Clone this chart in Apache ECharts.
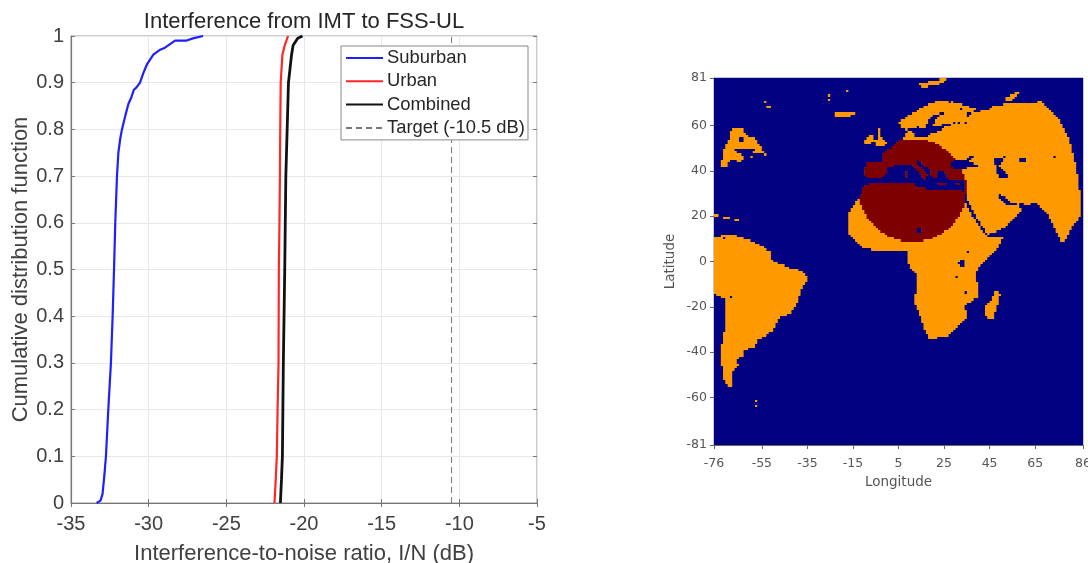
<!DOCTYPE html>
<html><head><meta charset="utf-8">
<script src="https://cdn.jsdelivr.net/npm/echarts@6/dist/echarts.min.js"></script>
<style>html,body{margin:0;padding:0;background:#fff}#c{width:1088px;height:563px;filter:blur(0.45px)}</style>
</head><body><div id="c"></div>
<script>
// ---- CDF panel: values
const suburbanDb=[-33.35,-33.1,-32.97,-32.85,-32.75,-32.6,-32.43,-32.32,-32.23,-32.15,-32.04,-31.95,-31.83,-31.72,-31.5,-31.3,-31.1,-30.95,-30.78,-30.56,-30.35,-30.1,-29.9,-29.7,-29.3,-28.95,-28.74,-28.3,-27.6,-27.15,-26.5];
const suburbanCdf=[0,0.005,0.019,0.06,0.1,0.2,0.3,0.4,0.5,0.6,0.7,0.75,0.78,0.8,0.83,0.855,0.87,0.885,0.89,0.9,0.92,0.94,0.95,0.96,0.97,0.975,0.98,0.99,0.99,0.995,1];
const urbanDb=[-21.9,-21.82,-21.75,-21.7,-21.64,-21.62,-21.58,-21.55,-21.53,-21.5,-21.39,-21.24,-21.03];
const urbanCdf=[0,0.05,0.1,0.2,0.3,0.5,0.6,0.7,0.8,0.9,0.96,0.98,1];
const combinedDb=[-21.52,-21.45,-21.39,-21.33,-21.24,-21.17,-21.0,-20.8,-20.7,-20.4,-20.1];
const combinedCdf=[0,0.05,0.1,0.3,0.5,0.7,0.9,0.96,0.98,0.995,1];
const targetDb=[-10.5,-10.5];
const targetCdf=[0,1];
const lonTicks=[-76,-55,-35,-15,5,25,45,65,86];
const latTicks=[-81,-60,-40,-20,0,20,40,60,81];

// ---- Map panel: coastlines as [lon,lat] vertices
const greenland=[[-67.5,58.8],[-63.9,59.5],[-62.4,57.3],[-61,54.8],[-58,54.8],[-56.5,52.1],[-54.3,49.2],[-52.9,47],[-55.1,47.7],[-58.7,48.2],[-58,50.4],[-63.1,50.4],[-65.3,50],[-67.5,49.2],[-64.6,48],[-62.4,45.1],[-65.3,44.1],[-69,45.5],[-70.4,41.8],[-73.1,41.8],[-72.6,44.8],[-71.6,50],[-69.7,53.6],[-68.7,57.3]];
const iceland=[[-23.6,66.4],[-19.2,66.1],[-14.1,66.4],[-13.8,65],[-17,64.2],[-20,63.6],[-22.5,63.9]];
const ireland=[[-7.2,55.8],[-5.3,55.4],[-6.4,53.6],[-7.5,52.1],[-10.2,52.1],[-9.3,53.9]];
const britain=[[-4.6,58],[-3.1,58.8],[-2.4,54.8],[0.2,52.6],[-0.95,51],[-4.6,51],[-5.8,53.6],[-3.9,54.8]];
const svalbard=[[12.1,79.4],[17.9,79.4],[26,81],[25.3,79.4],[20.9,77.9],[15.7,77.2]];
const novaya=[[51.6,72],[55.2,74.2],[58.9,75.4],[58.2,74.2],[55.2,71.6],[53,70.55]];
const eurasia=[[5.1,61.7],[9.2,64.7],[13.5,66.9],[18,69.8],[22.3,70.8],[27.4,71],[31.8,69.8],[36.2,68.3],[41.4,66.9],[44.3,67.2],[47.2,69.1],[50.9,69.5],[58.2,69.8],[64.8,69.8],[67,71.6],[69.9,68.3],[74.3,64.7],[77.9,58.8],[80.8,51.4],[83,41.9],[85,29.3],[84.5,19.8],[80.1,13.9],[77.9,8.7],[76.5,8.7],[73.5,15.4],[70.6,21.2],[66.2,25.7],[61.1,25.4],[58.2,25.7],[58.9,22.7],[55.2,18.3],[49.4,13.9],[44.3,12.2],[40,18.3],[36.3,24.9],[34.8,29.3],[34.3,30.8],[34.2,36],[26.9,35.5],[25.4,39.6],[22,40.4],[22,36.4],[19.5,38.2],[18.8,40.4],[13.7,44.8],[12.2,44.35],[18.1,38.2],[16.2,36],[14.4,38.9],[10,43.3],[5.6,43.3],[0.5,41.9],[-0.9,38.2],[-3.1,37],[-7.5,37],[-9.7,37.6],[-9.4,43.8],[-2.4,44.5],[-1.7,47.7],[5.6,54],[8,54.8],[8.9,58.3],[6.2,59.5]];
const africa=[[-13.4,27.1],[-17,21.2],[-16.6,12.4],[-10.4,5.8],[-1.7,5],[9.2,4.7],[8.9,-0.8],[12.8,-5.2],[12.8,-12.6],[11.4,-17],[14.3,-22.9],[17.2,-31.7],[18.7,-33.9],[26,-33],[30.4,-29.5],[34.8,-24.4],[34.3,-19.2],[39.9,-15.5],[39.9,-10.4],[38.7,-5.2],[41.3,-0.8],[47.9,5.06],[50.8,10.9],[44.3,11.5],[42,13.2],[37.7,19.8],[33.7,27.9],[34.3,31.3],[33.4,31.5],[17.4,32.3],[12.2,33.75],[11.5,35.5],[-1.7,34.7],[-7.5,34.7],[-10.4,33],[-12.6,27.9]];
const madagascar=[[47.9,-12.6],[49.8,-13.8],[48.7,-18.5],[46.9,-24.4],[44.3,-25.1],[42.8,-22.9],[43.5,-19.2],[46.5,-15.5]];
const southAmerica=[[-76.3,10.9],[-71.9,11.7],[-69,12.4],[-64.6,10.9],[-60.2,9.5],[-54.4,6.5],[-50.7,4.3],[-50.7,0.6],[-47,-0.8],[-43.4,-2.3],[-37.5,-3.8],[-34.6,-7.45],[-38.3,-13.3],[-39,-17.8],[-42.65,-22.9],[-47,-24.4],[-50.7,-31],[-57.3,-34.7],[-58,-37.6],[-62.4,-39.1],[-63.1,-41.3],[-66,-42.8],[-65.3,-45.7],[-67.5,-47.9],[-67.8,-54.5],[-70.1,-54.5],[-71.6,-51.6],[-72.6,-45],[-73.4,-38.4],[-71.9,-34],[-71.2,-28],[-70.7,-18.5],[-71.2,-16.3],[-76.3,-14]];
const baltic=[[7.7,59.1],[16.8,58.8],[18,62.8],[20.9,65],[25,65.8],[21.6,63.2],[20.1,60.25],[24.5,60.5],[30.4,61.7],[24.5,59.2],[23.5,57.6],[19.7,57.3],[17.6,55.1],[12.1,55.4],[10.9,58],[9.2,58.3]];
const whiteSea=[[34.8,66.1],[40.6,66.9],[41,65.7],[37,65.7],[36.2,64.2],[34.8,64.7]];
const blackSea=[[28.2,44.05],[31.8,45.5],[32.9,44.05],[37,47.7],[38.7,47],[35.5,44.8],[40.6,42.1],[35.5,41.6],[31.8,41.1],[27.9,41.6]];
const caspian=[[46.9,46.3],[51.6,46.55],[50.9,44.05],[49.4,42.6],[53,38.2],[52.8,36.7],[49.4,37.1],[47.9,41.1]];
const aral=[[57.4,46],[60.4,46.6],[60.7,44],[58.2,44]];
const persianGulf=[[48.7,30.1],[50.5,29.5],[54,26.2],[56.7,25.7],[56.7,25],[53.5,24.8],[50.5,26.8],[48.7,28.5]];
const sardinia=[[7.8,40.4],[9.3,40.4],[9.3,36.9],[7.8,36.9]];
const crete=[[22.5,35],[26.1,35],[26.1,34],[22.5,34]];
const cyprus=[[29.8,35.5],[32,35.5],[32,34.4],[29.8,34.4]];
// single grid cells: [lon,lat]
const isletCells=[[-54,70],[-53,68],[-52,68],[-26,73],[-26,71],[-18,75],[-60,46],[-76,20],[-75,20],[-72,19],[-71,19],[-70,19],[-67,18],[-66,18],[-58,-62],[-58,-64]];
const lakeCells=[[-65,54],[-64,54],[-65,53],[-64,53],[-72,10],[-69,-16],[13,14],[14,14],[13,13],[14,13],[32,-1],[33,-1],[32,0],[33,0],[31,-1],[32,-2],[33,-2],[30,-7],[34,-14],[35,4],[73,46],[13,59],[27,70],[32,67],[34,61],[31,61]];
const landShapes=[greenland,iceland,ireland,britain,svalbard,novaya,eurasia,africa,madagascar,southAmerica];
const waterShapes=[baltic,whiteSea,blackSea,caspian,aral,persianGulf];
const islandShapes=[sardinia,crete,cyprus];
const beamCentre=[11.2,31.7];
const beamRadius=[23.7,22.7];
const lonRange=[-76,86];
const latRange=[-81,81];
const classColors=['#000080','#ff9900','#7f0000'];

function inside(poly,x,y){let c=false;for(let i=0,j=poly.length-1;i<poly.length;j=i++){const a=poly[i],b=poly[j];if((a[1]>y)!==(b[1]>y)&&x<(b[0]-a[0])*(y-a[1])/(b[1]-a[1])+a[0])c=!c;}return c;}
function cellClass(lon,lat){
  const x=lon+.5,y=lat+.5;
  const has=(l)=>l.some(p=>p[0]===lon&&p[1]===lat);
  let land=landShapes.some(p=>inside(p,x,y));
  if(land&&waterShapes.some(p=>inside(p,x,y)))land=false;
  if(islandShapes.some(p=>inside(p,x,y)))land=true;
  if(has(isletCells))land=true;
  if(has(lakeCells))land=false;
  if(!land)return 0;
  const dx=(x-beamCentre[0])/beamRadius[0],dy=(y-beamCentre[1])/beamRadius[1];
  return dx*dx+dy*dy<=1?2:1;
}
const mapRuns=[];
for(let lat=latRange[0];lat<latRange[1];lat++){
  let start=lonRange[0],cur=cellClass(start,lat);
  for(let lon=lonRange[0]+1;lon<=lonRange[1];lon++){
    const k=lon<lonRange[1]?cellClass(lon,lat):-1;
    if(k!==cur){mapRuns.push([start,lon,lat,cur]);start=lon;cur=k;}
  }
}
const zip=(a,b)=>a.map((v,i)=>[v,b[i]]);
const sans='"Liberation Sans",Arial,sans-serif';
const dark='#404040';
const mirror={show:true,inside:true,length:4,lineStyle:{color:'#777'}};
const chart=echarts.init(document.getElementById('c'));
chart.setOption({
  animation:false,backgroundColor:'#fff',
  title:{text:'Interference from IMT to FSS-UL',left:299,top:6,textAlign:'center',textStyle:{fontFamily:sans,fontSize:22,fontWeight:'normal',color:'#262626'}},
  legend:{orient:'vertical',left:341,top:46,padding:[3,3,3,4],itemWidth:37,itemHeight:14,itemGap:5.3,align:'left',backgroundColor:'#fff',borderColor:'#888',borderWidth:1,borderRadius:0,
    itemStyle:{opacity:0},
    textStyle:{fontFamily:sans,fontSize:18.4,color:'#262626',padding:[0,0,0,-1]},data:['Suburban','Urban','Combined','Target (-10.5 dB)']},
  grid:[
    {left:71,top:36,width:466,height:467,outerBoundsMode:'none',show:true,borderColor:'#999',borderWidth:1,backgroundColor:'#fff'},
    {left:714,top:78,width:369,height:367,outerBoundsMode:'none',show:true,borderColor:'#8890a8',borderWidth:1}
  ],
  xAxis:[
    {type:'value',gridIndex:0,min:-35,max:-5,interval:5,name:'Interference-to-noise ratio, I/N (dB)',nameLocation:'middle',nameGap:40,
      nameTextStyle:{fontFamily:sans,fontSize:22,color:dark},axisLine:{show:true,onZero:false,lineStyle:{color:'#777',width:1.2}},axisTick:{...mirror},
      splitLine:{show:true,lineStyle:{color:'#e8e8e8'}},axisLabel:{fontFamily:sans,fontSize:20,color:dark,margin:11}},
    {type:'value',gridIndex:0,position:'top',min:-35,max:-5,interval:5,axisLine:{show:false},axisTick:{...mirror},axisLabel:{show:false},splitLine:{show:false}},
    {type:'value',gridIndex:1,min:lonRange[0],max:lonRange[1],name:'Longitude',nameLocation:'middle',nameGap:30,
      nameTextStyle:{fontFamily:'"DejaVu Sans"',fontSize:13.5,color:'#555'},axisLine:{show:true,onZero:false,lineStyle:{color:'#666'}},
      axisTick:{show:true,length:4,lineStyle:{color:'#666'},customValues:lonTicks},splitLine:{show:false},
      axisLabel:{fontFamily:'"DejaVu Sans"',fontSize:12.5,color:'#555',margin:12,customValues:lonTicks}}
  ],
  yAxis:[
    {type:'value',gridIndex:0,min:0,max:1,interval:0.1,name:'Cumulative distribution function',nameLocation:'middle',nameGap:38,
      nameTextStyle:{fontFamily:sans,fontSize:22,color:dark},axisLine:{show:true,onZero:false,lineStyle:{color:'#777',width:1.2}},axisTick:{...mirror},
      splitLine:{show:true,lineStyle:{color:'#e8e8e8'}},axisLabel:{fontFamily:sans,fontSize:20,color:dark,margin:7}},
    {type:'value',gridIndex:0,position:'right',min:0,max:1,interval:0.1,axisLine:{show:false},axisTick:{...mirror},axisLabel:{show:false},splitLine:{show:false}},
    {type:'value',gridIndex:1,min:latRange[0],max:latRange[1],name:'Latitude',nameLocation:'middle',nameGap:37,
      nameTextStyle:{fontFamily:'"DejaVu Sans"',fontSize:13.5,color:'#555'},axisLine:{show:true,onZero:false,lineStyle:{color:'#666'}},
      axisTick:{show:true,length:4,lineStyle:{color:'#666'},customValues:latTicks},splitLine:{show:false},
      axisLabel:{fontFamily:'"DejaVu Sans"',fontSize:12.5,color:'#555',margin:7,customValues:latTicks}}
  ],
  series:[
    {name:'Suburban',type:'line',xAxisIndex:0,yAxisIndex:0,symbol:'none',data:zip(suburbanDb,suburbanCdf),lineStyle:{color:'#1f1fff',width:2.2},itemStyle:{color:'#1f1fff'}},
    {name:'Urban',type:'line',xAxisIndex:0,yAxisIndex:0,symbol:'none',data:zip(urbanDb,urbanCdf),lineStyle:{color:'#ff2626',width:2.2},itemStyle:{color:'#ff2626'}},
    {name:'Combined',type:'line',xAxisIndex:0,yAxisIndex:0,symbol:'none',data:zip(combinedDb,combinedCdf),lineStyle:{color:'#111',width:2.8},itemStyle:{color:'#111'}},
    {name:'Target (-10.5 dB)',type:'line',xAxisIndex:0,yAxisIndex:0,symbol:'none',data:zip(targetDb,targetCdf),lineStyle:{color:'#777',width:1,type:[6,4]},itemStyle:{color:'#777'}},
    {name:'map',type:'custom',xAxisIndex:2,yAxisIndex:2,data:mapRuns,encode:{x:[0,1],y:2},silent:true,clip:true,
      renderItem(p,api){
        const a=api.coord([api.value(0),api.value(2)+1]),b=api.coord([api.value(1),api.value(2)]);
        return {type:'rect',shape:{x:a[0],y:Math.floor(a[1]),width:b[0]-a[0]+.3,height:Math.ceil(b[1])-Math.floor(a[1])},style:{fill:classColors[api.value(3)]}};
      }}
  ]
});
</script></body></html>
